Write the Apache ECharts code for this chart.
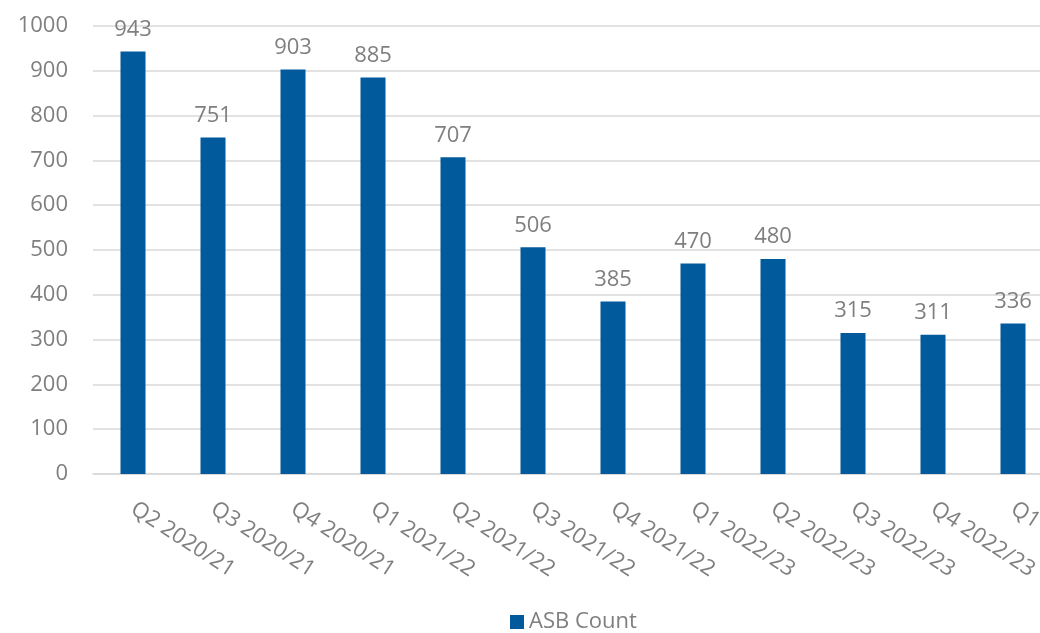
<!DOCTYPE html>
<html><head><meta charset="utf-8">
<script src="https://cdn.jsdelivr.net/npm/echarts@6/dist/echarts.min.js"></script>
<style>html,body{margin:0;padding:0;background:#fff}#c{width:1040px;height:633px}</style>
</head><body><div id="c"></div>
<script>
const categories = ["Q2 2020/21","Q3 2020/21","Q4 2020/21","Q1 2021/22","Q2 2021/22","Q3 2021/22","Q4 2021/22","Q1 2022/23","Q2 2022/23","Q3 2022/23","Q4 2022/23","Q1 2023/24"];
const asbCount = [943,751,903,885,707,506,385,470,480,315,311,336];
const seriesName = "ASB Count";
const font = "'Open Sans', 'Noto Sans', sans-serif";
const chart = echarts.init(document.getElementById('c'), null, {renderer:'canvas'});
chart.setOption({
  animation:false,
  grid:{left:93,right:-13,top:26,bottom:159,containLabel:false,outerBoundsMode:'none'},
  legend:{bottom:0,left:510,padding:0,itemWidth:14,itemHeight:14,icon:'rect',itemGap:5,
    textStyle:{color:'#7f7f7f',fontSize:22,fontFamily:font},data:[seriesName]},
  xAxis:{type:'category',data:categories,
    axisLine:{lineStyle:{color:'#d9d9d9',width:1.5}},axisTick:{show:false},
    axisLabel:{rotate:-33,color:'#7f7f7f',fontSize:22,fontFamily:font,margin:33,interval:0,hideOverlap:false}},
  yAxis:{type:'value',min:0,max:1000,interval:100,
    axisLine:{show:false},axisTick:{show:false},
    splitLine:{lineStyle:{color:'#d9d9d9',width:1.5}},
    axisLabel:{color:'#7f7f7f',fontSize:22,fontFamily:font,margin:25,formatter:v=>String(v)}},
  series:[{name:seriesName,type:'bar',data:asbCount,barWidth:25,
    itemStyle:{color:'#005a9b'},
    label:{show:true,position:'top',distance:11,color:'#7f7f7f',fontSize:22,fontFamily:font}}]
});
</script></body></html>
